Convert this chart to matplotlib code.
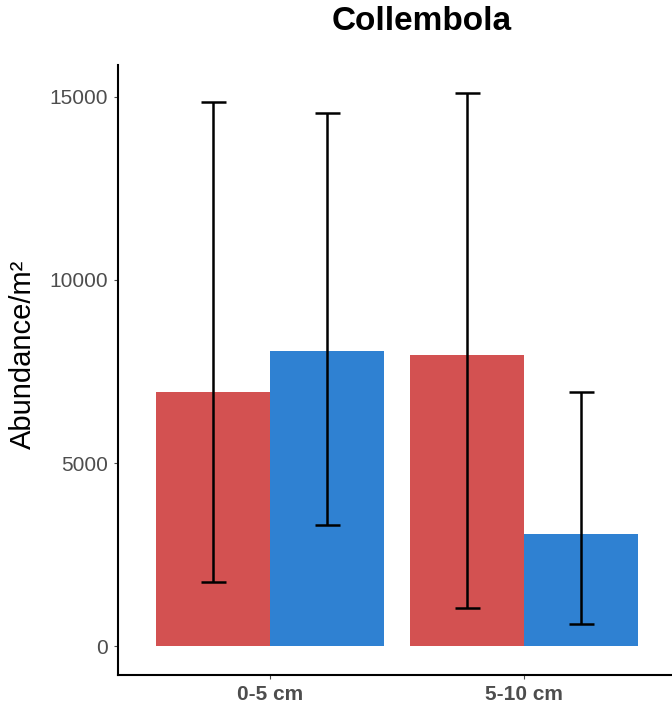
#!/usr/bin/env python3

import numpy as np
import matplotlib
matplotlib.use('Agg')
import matplotlib.pyplot as plt

plt.rcParams['font.family'] = ['Liberation Sans', 'DejaVu Sans']

depths = ['0-5 cm', '5-10 cm']
groups = ['A', 'B']
colors = ['#D35151', '#2F81D2']

# mean abundance per depth, one list per group
means = {
	'A': [6950, 7950],
	'B': [8050, 3050],
}
# lower / upper ends of the error bars
lower = {
	'A': [1750, 1050],
	'B': [3300, 600],
}
upper = {
	'A': [14850, 15100],
	'B': [14550, 6950],
}

W, H = 672, 708
fig = plt.figure(figsize=(W / 100, H / 100), dpi=100)
ax = fig.add_axes([118 / W, 1 - 675 / H, (676 - 118) / W, (675 - 65) / H])

x = np.arange(1, len(depths) + 1)
dodge = 0.9
bw = dodge / len(groups)

for i, g in enumerate(groups):
	xs = x - dodge / 2 + bw * (i + 0.5)
	m = np.array(means[g])
	ax.bar(xs, m, width=bw, color=colors[i], linewidth=0)
	err = [m - np.array(lower[g]), np.array(upper[g]) - m]
	ax.errorbar(xs, m, yerr=err, fmt='none', ecolor='black', elinewidth=1.8,
		capsize=9, capthick=1.8)

ax.set_xlim(0.4, 2.6)
ax.set_ylim(-790, 15870)
ax.set_xticks(x)
ax.set_xticklabels(depths, fontsize=15, fontweight='bold', color='#4d4d4d')
ax.set_yticks([0, 5000, 10000, 15000])
ax.set_yticklabels(['0', '5000', '10000', '15000'], fontsize=15, color='#4d4d4d')
ax.tick_params(axis='both', length=3, width=0.8, color='#4d4d4d', pad=4)

for s in ['top', 'right']:
	ax.spines[s].set_visible(False)
for s in ['left', 'bottom']:
	ax.spines[s].set_linewidth(1.5)
	ax.spines[s].set_color('black')

ax.set_ylabel('Abundance/m²', fontsize=21)
ax.yaxis.set_label_coords(-0.145, 0.525)
fig.text(422 / W, 1 - 22 / H, 'Collembola', fontsize=24, fontweight='bold',
	ha='center', va='center')

fig.savefig('out.png', dpi=100)
